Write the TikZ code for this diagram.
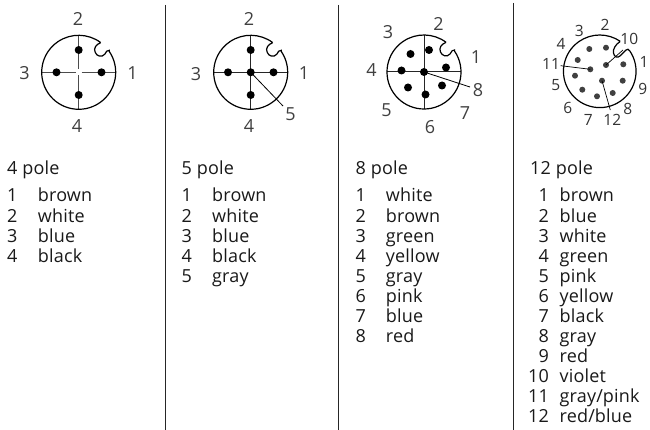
\documentclass[tikz,border=0pt]{standalone}
\usepackage{fontspec}
\setmainfont{Open Sans}
\newfontfamily\bodyfont[LetterSpace=1]{Open Sans}
\tikzset{
  pin/.style={circle,fill=black,inner sep=0pt,minimum size=8pt},
  smallpin/.style={circle,fill=black!75,inner sep=0pt,minimum size=6pt},
  lab/.style={inner sep=0pt,font=\fontsize{18}{18}\selectfont,text=black!75},
  slab/.style={inner sep=0pt,font=\fontsize{15.5}{15.5}\selectfont,text=black!80},
  txt/.style={inner sep=0pt,anchor=base west,font=\bodyfont\fontsize{18}{18}\selectfont,text=black!90},
  shell/.style={draw=black,line width=1.2pt},
  cross/.style={draw=black!70,line width=1pt},
  sep/.style={draw=black!85,line width=1pt}
}
\newcommand{\connector}[2]{%
  \begin{scope}[shift={(#1,#2)}]
    \draw[shell] (22,-29.6) .. controls (17.5,-28) and (14.5,-24) .. (16.5,-20)
      .. controls (18,-16) and (23,-14.5) .. (26,-18)
      .. controls (27.5,-20.5) and (28.5,-22.6) .. (30.6,-22)
      -- (30.6,-20.8) arc[start angle=-34.2, end angle=306.5, radius=37];
  \end{scope}}
\begin{document}
\begin{tikzpicture}[x=1pt,y=-1pt]
\useasboundingbox (0,0) rectangle (650,430);
\fill[white] (0,0) rectangle (650,430);
% separators
\coordinate (s1a) at (165,5); \coordinate (s1b) at (165,430);
\coordinate (s2a) at (338.5,5); \coordinate (s2b) at (338.5,430);
\coordinate (s3a) at (513.5,3); \coordinate (s3b) at (513.5,430);
\draw[sep] (s1a)--(s1b); \draw[sep] (s2a)--(s2b); \draw[sep] (s3a)--(s3b);

% 4 pole
\coordinate (a) at (78.7,72.3);
\coordinate (aN) at (78.7,35.3); \coordinate (aS) at (78.7,109.3);
\coordinate (aW) at (41.7,72.3); \coordinate (aE) at (115.7,72.3);
\coordinate (an) at (78.7,69.5); \coordinate (as) at (78.7,75.1);
\coordinate (aw) at (75.9,72.3); \coordinate (ae) at (81.5,72.3);
\draw[cross] (aN)--(an); \draw[cross] (as)--(aS); \draw[cross] (aW)--(aw); \draw[cross] (ae)--(aE);
\connector{78.7}{72.3}
\node[pin] (a1) at (101.5,72.3) {};
\node[pin] (a2) at (78.7,50) {};
\node[pin] (a3) at (56.5,72.3) {};
\node[pin] (a4) at (78.7,95) {};
\node[lab] (la1) at (132.5,73) {1};
\node[lab] (la2) at (78,19) {2};
\node[lab] (la3) at (24.5,73) {3};
\node[lab] (la4) at (77,126) {4};

% 5 pole
\coordinate (b) at (250.7,72.3);
\coordinate (bN) at (250.7,35.3); \coordinate (bS) at (250.7,109.3);
\coordinate (bW) at (213.7,72.3); \coordinate (bE) at (287.7,72.3);
\draw[cross,draw=black!85] (bN)--(bS); \draw[cross,draw=black!85] (bW)--(bE);
\connector{250.7}{72.3}
\node[pin] (b1) at (273.5,72.3) {};
\node[pin] (b2) at (250.7,50) {};
\node[pin] (b3) at (228,72.3) {};
\node[pin] (b4) at (250.7,95) {};
\node[pin] (b5) at (250.7,72.3) {};
\coordinate (b5e) at (283,106);
\draw[line width=0.8pt] (b5.center)--(b5e);
\node[lab] (lb1) at (304,73) {1};
\node[lab] (lb2) at (249,19) {2};
\node[lab] (lb3) at (196,74) {3};
\node[lab] (lb4) at (249,126) {4};
\node[lab] (lb5) at (290.5,114) {5};

% 8 pole
\coordinate (c) at (424,72);
\coordinate (cN) at (424,35); \coordinate (cS) at (424,109);
\coordinate (cW) at (387,72); \coordinate (cE) at (461,72);
\draw[cross,draw=black!85] (cN)--(cS); \draw[cross,draw=black!85] (cW)--(cE);
\connector{424}{72}
\node[pin] (c1) at (446,67.5) {};
\node[pin] (c2) at (429,50) {};
\node[pin] (c3) at (410.5,54) {};
\node[pin] (c4) at (401.5,70.5) {};
\node[pin] (c5) at (408,87.5) {};
\node[pin] (c6) at (425.5,94.5) {};
\node[pin] (c7) at (442,85.5) {};
\node[pin] (c8) at (424,72) {};
\coordinate (c8e) at (470,87);
\draw[line width=0.8pt] (c8.center)--(c8e);
\node[lab] (lc1) at (476,57) {1};
\node[lab] (lc2) at (438.5,24) {2};
\node[lab] (lc3) at (388,32) {3};
\node[lab] (lc4) at (371.5,70) {4};
\node[lab] (lc5) at (386.5,110) {5};
\node[lab] (lc6) at (430,127) {6};
\node[lab] (lc7) at (465,113) {7};
\node[lab] (lc8) at (478,90) {8};

% 12 pole
\begin{scope}[shift={(599.7,71.3)}]
  \draw[shell] (20.3,-29.7) .. controls (16,-27) and (13,-22) .. (13.7,-18.5)
    .. controls (14.5,-14) and (18,-13) .. (20.5,-15.5)
    -- (26,-21) .. controls (27.5,-22.5) and (29,-22.5) .. (30,-20.5)
    arc[start angle=-34.4, end angle=304.4, radius=36.3];
\end{scope}
\node[smallpin] (d1) at (623.3,64.3) {};
\node[smallpin] (d2) at (606,47.7) {};
\node[smallpin] (d3) at (589.3,49) {};
\node[smallpin] (d4) at (577.7,60) {};
\node[smallpin] (d5) at (575,75.7) {};
\node[smallpin] (d6) at (582.3,89.7) {};
\node[smallpin] (d7) at (597,96.3) {};
\node[smallpin] (d8) at (612.7,93) {};
\node[smallpin] (d9) at (622.7,80.7) {};
\node[smallpin] (d10) at (606,65) {};
\node[smallpin] (d11) at (590.3,69.3) {};
\node[smallpin] (d12) at (602,80.7) {};
\coordinate (d10e) at (623,50);
\coordinate (d11e) at (560.7,65.7);
\coordinate (d12e) at (610.3,110);
\draw[line width=0.7pt] (d10.center)--(d10e);
\draw[line width=0.7pt] (d11.center)--(d11e);
\draw[line width=0.7pt] (d12.center)--(d12e);
\node[slab] (ld1) at (644,61.7) {1};
\node[slab] (ld2) at (605,25) {2};
\node[slab] (ld3) at (579.3,30.7) {3};
\node[slab] (ld4) at (561,44) {4};
\node[slab] (ld5) at (555.7,85) {5};
\node[slab] (ld6) at (567.7,107.7) {6};
\node[slab] (ld7) at (588.3,120) {7};
\node[slab] (ld8) at (627.7,109) {8};
\node[slab] (ld9) at (642.7,89.3) {9};
\node[slab] (ld10) at (629.3,39) {10};
\node[slab] (ld11) at (551,64) {11};
\node[slab] (ld12) at (612.3,120) {12};

% text
\node[txt] (ta) at (7,175) {4 pole};
\foreach \n/\w [count=\i] in {1/brown,2/white,3/blue,4/black}{
  \node[txt] (ta\i) at (7,{202+(\i-1)*20.05}) {\n};
  \node[txt] (tb\i) at (37.7,{202+(\i-1)*20.05}) {\w};
}
\node[txt] (tb) at (181.5,175) {5 pole};
\foreach \n/\w [count=\i] in {1/brown,2/white,3/blue,4/black,5/gray}{
  \node[txt] (tc\i) at (181.5,{202+(\i-1)*20.05}) {\n};
  \node[txt] (td\i) at (212,{202+(\i-1)*20.05}) {\w};
}
\node[txt] (tc) at (355.5,175) {8 pole};
\foreach \n/\w [count=\i] in {1/white,2/brown,3/green,4/yellow,5/gray,6/pink,7/blue,8/red}{
  \node[txt] (te\i) at (355.5,{202+(\i-1)*20.05}) {\n};
  \node[txt] (tf\i) at (385.7,{202+(\i-1)*20.05}) {\w};
}
\node[txt] (td) at (530,175) {12 pole};
\foreach \n/\w [count=\i] in {1/brown,2/blue,3/white,4/green,5/pink,6/yellow,7/black,8/gray,9/red,10/violet,11/gray\slash pink,12/red\slash blue}{
  \node[txt,anchor=base east] (tg\i) at (549,{202+(\i-1)*20.05}) {\n};
  \node[txt] (th\i) at (559.5,{202+(\i-1)*20.05}) {\w};
}
\end{tikzpicture}
\end{document}
